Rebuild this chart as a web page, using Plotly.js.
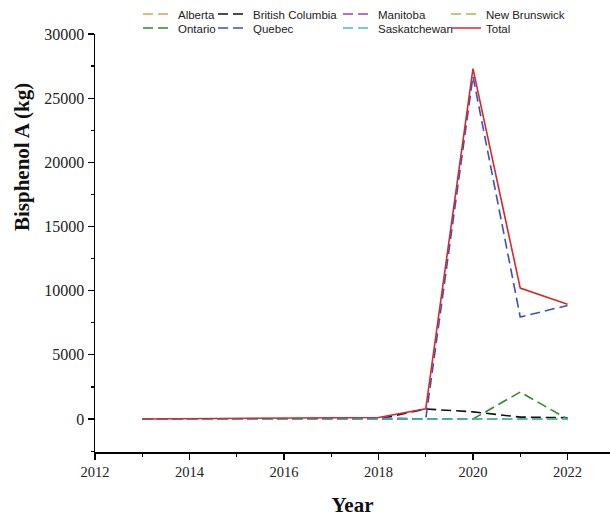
<!DOCTYPE html>
<html>
<head>
<meta charset="utf-8">
<script src="https://cdn.plot.ly/plotly-3.0.1.min.js"></script>
<style>body{margin:0;padding:0;background:#fff}#chart{width:610px;height:519px}</style>
</head>
<body>
<div id="chart"></div>
<script>
const years = [2013, 2014, 2015, 2016, 2017, 2018, 2019, 2020, 2021, 2022];
const alberta = [0, 30, 30, 40, 40, 40, 20, 40, 0, 0];
const britishColumbia = [0, 0, 0, 0, 0, 0, 780, 560, 150, 100];
const manitoba = [0, 0, 0, 0, 60, 80, 0, 0, 0, 0];
const newBrunswick = [0, 0, 0, 0, 0, 0, 0, 0, 0, 0];
const ontario = [0, 0, 0, 0, 0, 0, 0, 0, 2100, 0];
const quebec = [0, 0, 0, 0, 0, 0, 0, 26700, 7950, 8850];
const saskatchewan = [0, 0, 0, 0, 0, 0, 0, 0, 0, 0];
const total = [0, 30, 30, 40, 100, 120, 800, 27300, 10200, 8950];

const seriesNames = ['Alberta', 'British Columbia', 'Manitoba', 'New Brunswick', 'Ontario', 'Quebec', 'Saskatchewan', 'Total'];
const seriesValues = [alberta, britishColumbia, manitoba, newBrunswick, ontario, quebec, saskatchewan, total];
const seriesColors = ['#d9a14f', '#111111', '#a23dbf', '#b5b347', '#2e8b2e', '#3551c4', '#36c2c2', '#d42a2a'];
const legendIds = ['legend', 'legend3', 'legend5', 'legend7', 'legend2', 'legend4', 'legend6', 'legend8'];
const yTitle = 'Bisphenol A (kg)';
const xTitle = 'Year';

const serif = 'Liberation Serif, Times New Roman, serif';
const traces = seriesNames.map((n, i) => ({
  x: years, y: seriesValues[i], name: n, type: 'scatter', mode: 'lines',
  legend: legendIds[i],
  line: {color: seriesColors[i], width: 1.6, dash: n === 'Total' ? 'solid' : '10px,5px'}
}));
const legendFont = {family: 'Liberation Sans, Arial, sans-serif', size: 11.5, color: '#222'};
function lg(x, y) {
  return {x: x, y: y, xref: 'container', yref: 'container', xanchor: 'left', yanchor: 'middle',
    orientation: 'v', bgcolor: 'rgba(0,0,0,0)', borderwidth: 0, font: legendFont, itemwidth: 30};
}
const colX = [138/610, 213/610, 338/610, 446/610];
const rowY = [1 - 14/519, 1 - 28/519];

const layout = {
  width: 610, height: 519,
  margin: {l: 95, r: 0, t: 34, b: 67, autoexpand: false},
  paper_bgcolor: '#fff', plot_bgcolor: '#fff',
  showlegend: true,
  legend: lg(colX[0], rowY[0]),
  legend2: lg(colX[0], rowY[1]),
  legend3: lg(colX[1], rowY[0]),
  legend4: lg(colX[1], rowY[1]),
  legend5: lg(colX[2], rowY[0]),
  legend6: lg(colX[2], rowY[1]),
  legend7: lg(colX[3], rowY[0]),
  legend8: lg(colX[3], rowY[1]),
  xaxis: {
    range: [2012, 2022.9], showgrid: false, zeroline: false, autorange: false,
    showline: true, linecolor: '#000', linewidth: 1.5,
    ticks: 'outside', ticklen: 6, tickwidth: 1.2, tickcolor: '#000',
    tickmode: 'linear', tick0: 2012, dtick: 2,
    minor: {ticks: 'outside', ticklen: 3, tickcolor: '#000', dtick: 1},
    tickfont: {family: serif, size: 14.5, color: '#222'},
    title: {text: '<b>' + xTitle + '</b>', standoff: 18, font: {family: serif, size: 21, color: '#111'}}
  },
  yaxis: {
    range: [-2570, 30000], showgrid: false, zeroline: false, autorange: false,
    showline: true, linecolor: '#000', linewidth: 1.5,
    ticks: 'outside', ticklen: 6, tickwidth: 1.2, tickcolor: '#000',
    tickmode: 'linear', tick0: 0, dtick: 5000,
    exponentformat: 'none', tickformat: 'd',
    minor: {ticks: 'outside', ticklen: 3, tickcolor: '#000', dtick: 2500},
    tickfont: {family: serif, size: 16, color: '#222'}
  },
  annotations: [{
    text: '<b>' + yTitle + '</b>', xref: 'paper', yref: 'paper',
    x: (22 - 95) / 515, y: (452 - 157) / 418, xanchor: 'center', yanchor: 'middle',
    textangle: -90, showarrow: false, font: {family: serif, size: 21, color: '#111'}
  }]
};
Plotly.newPlot('chart', traces, layout, {displayModeBar: false, staticPlot: true});
</script>
</body>
</html>
